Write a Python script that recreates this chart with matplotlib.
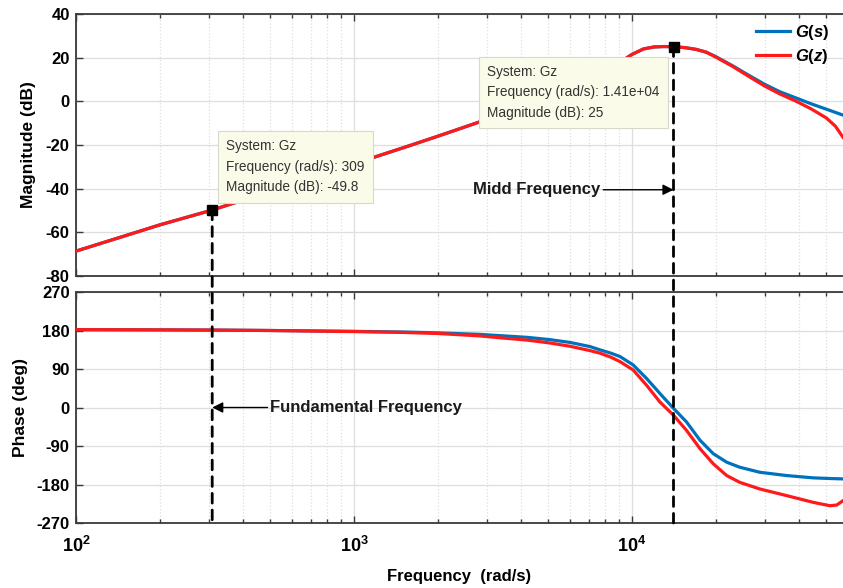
import math
import matplotlib
matplotlib.use("Agg")
import matplotlib.pyplot as plt
from matplotlib.ticker import FixedLocator, LogLocator, NullFormatter, FuncFormatter
from matplotlib.patches import ConnectionPatch

plt.rcParams["font.family"] = ["Liberation Sans", "DejaVu Sans"]
plt.rcParams["mathtext.fontset"] = "custom"
plt.rcParams["mathtext.rm"] = "Liberation Sans:bold"
plt.rcParams["mathtext.it"] = "Liberation Sans:bold:italic"
plt.rcParams["mathtext.bf"] = "Liberation Sans:bold"

# ---- magnitude response (rad/s, dB) ----
freq_mag = [100, 150, 200, 309, 500, 700, 1000, 1500, 2000, 2818, 3500, 4500,
            5500, 6500, 7500, 8500, 10000, 11000, 12000, 13000, 14100, 15500,
            17000, 18500, 20000, 23000, 26000, 30000, 34000, 39000, 44000,
            50000, 54000, 57400]
mag_gs = [-68.6, -61.6, -56.6, -49.8, -41.2, -35.1, -28.6, -21.3, -16.0, -9.5,
          -5.3, 0.0, 4.0, 8.0, 11.8, 15.6, 21.5, 24.0, 24.9, 25.1, 25.0, 24.6,
          23.8, 22.5, 20.5, 16.3, 12.3, 7.8, 4.4, 1.5, -1.1, -3.6, -5.1, -6.3]
mag_gz = [-68.6, -61.6, -56.6, -49.8, -41.2, -35.1, -28.6, -21.3, -16.0, -9.5,
          -5.3, 0.0, 4.0, 8.0, 11.8, 15.6, 21.5, 24.0, 24.9, 25.1, 25.0, 24.6,
          23.8, 22.5, 20.3, 16.0, 11.8, 7.0, 3.4, 0.0, -3.4, -7.6, -11.5, -16.5]

# ---- phase response (rad/s, deg) ----
freq_phase = [100, 200, 309, 500, 1000, 1500, 2000, 2818, 3350, 4200, 5070,
              6000, 7060, 7674, 8400, 9058, 10100, 11270, 12590, 14100, 15700,
              17570, 19600, 21900, 24400, 28800, 36000, 44900, 51500, 54500,
              57400]
phase_gs = [182, 181.5, 181, 180, 178, 176.5, 174.5, 171, 168, 164, 158.6,
            152, 142.4, 134.7, 127, 119, 99.4, 68.2, 33, -2, -33.7, -76.7,
            -108, -127.8, -139.6, -151.4, -159.1, -164.5, -166, -166.5, -166.9]
phase_gz = [182, 181.5, 181, 180, 177.5, 175.5, 173, 167.5, 163, 157.5, 150.8,
            143, 133, 126.9, 117.5, 107.2, 87.6, 52.4, 13.1, -18.1, -53.4,
            -96.4, -131.6, -159, -174.9, -190.4, -206, -221.8, -229.6, -228,
            -217.9]

# data-tip points on G(z)
tip_low = (309, -49.8)
tip_mid = (1.41e4, 25.0)

mag_ticks = [-80, -60, -40, -20, 0, 20, 40]
phase_ticks = [-270, -180, -90, 0, 90, 180, 270]
decade_ticks = [1e2, 1e3, 1e4]
freq_range = (100, 57400)

blue = "#0072BD"
red = "#FF1A1A"
spine_col = "#3a3a3a"
grid_col = "#dedede"

fig = plt.figure(figsize=(8.43, 5.88), dpi=100)
W, H = 843, 588
ax_mag = fig.add_axes([76 / W, 1 - 276 / H, 767 / W, 262 / H])
ax_ph = fig.add_axes([76 / W, 1 - 523 / H, 767 / W, 231 / H])

for ax in (ax_mag, ax_ph):
    ax.set_xscale("log")
    ax.set_xlim(*freq_range)
    ax.xaxis.set_major_locator(FixedLocator(decade_ticks))
    ax.xaxis.set_minor_locator(LogLocator(base=10, subs=range(2, 10), numticks=20))
    ax.xaxis.set_minor_formatter(NullFormatter())
    ax.grid(True, which="major", color=grid_col, lw=0.9, ls="-")
    ax.grid(True, which="minor", axis="x", color=grid_col, lw=0.9, ls=":")
    ax.set_axisbelow(True)
    ax.tick_params(which="both", direction="in", top=True, right=False,
                   color=spine_col, width=1.0)
    ax.tick_params(which="major", length=5)
    ax.tick_params(which="minor", length=3)
    ax.tick_params(axis="y", labelsize=12, pad=4.5)
    for side, sp in ax.spines.items():
        sp.set_color(spine_col)
        sp.set_linewidth(1.3)
    ax.spines["right"].set_visible(False)

# magnitude panel
ax_mag.plot(freq_mag, mag_gs, color=blue, lw=2.3, label="$G(s)$", zorder=3)
ax_mag.plot(freq_mag, mag_gz, color=red, lw=2.3, label="$G(z)$", zorder=4)
ax_mag.set_ylim(-80, 40)
ax_mag.yaxis.set_major_locator(FixedLocator(mag_ticks))
ax_mag.set_yticklabels([str(t) for t in mag_ticks], fontweight="bold", fontsize=12)
ax_mag.tick_params(axis="x", labelbottom=False)
ax_mag.set_ylabel("Magnitude (dB)", fontsize=12.5, fontweight="bold")
ax_mag.yaxis.set_label_coords(-0.052, 0.5)

# phase panel
ax_ph.plot(freq_phase, phase_gs, color=blue, lw=2.3, zorder=3)
ax_ph.plot(freq_phase, phase_gz, color=red, lw=2.3, zorder=4)
ax_ph.set_ylim(-270, 270)
ax_ph.yaxis.set_major_locator(FixedLocator(phase_ticks))
ax_ph.set_yticklabels([str(t) for t in phase_ticks], fontweight="bold", fontsize=12)
ax_ph.xaxis.set_major_formatter(
    FuncFormatter(lambda v, _: r"$10^{%d}$" % round(math.log10(v))))
ax_ph.tick_params(axis="x", labelsize=13, pad=9, labelcolor="black")
ax_ph.set_ylabel("Phase (deg)", fontsize=12.5, fontweight="bold")
ax_ph.yaxis.set_label_coords(-0.063, 0.5)
ax_ph.set_xlabel("Frequency  (rad/s)", fontsize=12, fontweight="bold")
ax_ph.xaxis.set_label_coords(0.5, -0.2)

# legend
ax_mag.legend(loc="upper left", bbox_to_anchor=(0.887, 0.965),
              frameon=False, borderaxespad=0, borderpad=0,
              handlelength=2.0, handletextpad=0.35, labelspacing=0.3,
              prop={"size": 12})

# vertical dashed markers spanning both panels
for f, m in (tip_low, tip_mid):
    con = ConnectionPatch(xyA=(f, m), coordsA=ax_mag.transData,
                          xyB=(f, -270), coordsB=ax_ph.transData,
                          color="black", lw=2.0, linestyle=(0, (3.5, 2.5)),
                          zorder=6)
    fig.add_artist(con)
    ax_mag.plot(f, m, "s", color="black", ms=7, zorder=7, clip_on=False)

# data tips
tip_box = dict(boxstyle="square,pad=0.6", fc="#fbfbe9", ec="#d8d8c8", lw=0.8)
ax_mag.annotate("System: Gz\nFrequency (rad/s): 309\nMagnitude (dB): -49.8",
                xy=tip_low, xytext=(10, 51), textcoords="offset points",
                ha="left", va="top", fontsize=9.8, color="#333333",
                linespacing=1.6, bbox=tip_box, zorder=8)
ax_mag.annotate("System: Gz\nFrequency (rad/s): 1.41e+04\nMagnitude (dB): 25",
                xy=tip_mid, xytext=(-134, -13), textcoords="offset points",
                ha="left", va="top", fontsize=9.8, color="#333333",
                linespacing=1.6, bbox=tip_box, zorder=8)

# arrow annotations
arrow = dict(arrowstyle="-|>", color="black", lw=1.0, mutation_scale=16,
             shrinkA=0, shrinkB=0)
ax_mag.annotate("Midd Frequency", xy=(tip_mid[0], -40.5), xytext=(7700, -40.5),
                ha="right", va="center", fontsize=12, fontweight="bold",
                color="#1a1a1a", arrowprops=arrow, zorder=9)
ax_ph.annotate("Fundamental Frequency", xy=(tip_low[0], 0), xytext=(500, 0),
               ha="left", va="center", fontsize=12, fontweight="bold",
               color="#1a1a1a", arrowprops=arrow, zorder=9)

fig.savefig("out.png", dpi=100, facecolor="white")
